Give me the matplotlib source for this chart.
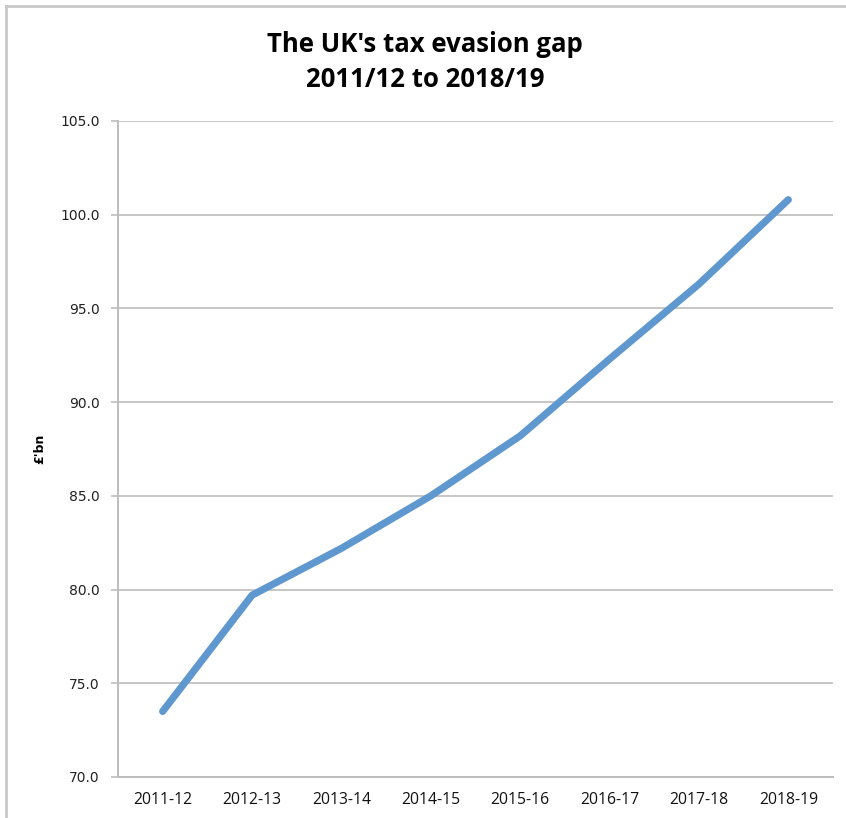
import matplotlib
matplotlib.use("Agg")
import matplotlib.pyplot as plt
from matplotlib.lines import Line2D

# Tax evasion gap, £bn, by financial year
years = ["2011-12", "2012-13", "2013-14", "2014-15",
         "2015-16", "2016-17", "2017-18", "2018-19"]
gap_bn = [73.5, 79.7, 82.2, 85.0, 88.2, 92.3, 96.3, 100.8]
y_ticks = [70, 75, 80, 85, 90, 95, 100, 105]

W, H = 846, 818
fig = plt.figure(figsize=(W / 100, H / 100), dpi=100)
fig.patch.set_facecolor("white")

# light outer frame of the chart area
frame_col = "#c9c9c9"
fig.add_artist(Line2D([6 / W, 6 / W], [0, 1 - 6 / H], transform=fig.transFigure,
                      color=frame_col, lw=2))
fig.add_artist(Line2D([6 / W, 1], [1 - 6 / H, 1 - 6 / H], transform=fig.transFigure,
                      color=frame_col, lw=2))

left, right = 118 / W, 833 / W
bottom, top = 1 - 777 / H, 1 - 121 / H
ax = fig.add_axes([left, bottom, right - left, top - bottom])

x = list(range(len(years)))
ax.plot(x, gap_bn, color="#5f98cf", lw=5.2, solid_capstyle="round",
        solid_joinstyle="round", zorder=3)

ax.set_xlim(-0.5, len(years) - 0.5)
ax.set_ylim(70, 105)
ax.set_yticks(y_ticks)
ax.set_yticklabels([f"{v:.1f}" for v in y_ticks], fontsize=10,
                   family="DejaVu Sans", color="#222222")
ax.set_xticks(x)
ax.set_xticklabels(years, fontsize=11.3, family="Open Sans", color="#111111")

grid_col = "#c6c6c6"
ax.yaxis.grid(True, color=grid_col, lw=1.4)
ax.set_axisbelow(True)
for side in ("top", "right"):
    ax.spines[side].set_visible(False)
for side in ("left", "bottom"):
    ax.spines[side].set_color("#bdbdbd")
    ax.spines[side].set_linewidth(1.4)
ax.tick_params(axis="y", length=5, width=1.2, color="#bdbdbd", pad=8)
ax.tick_params(axis="x", length=0, pad=11)

ax.set_ylabel("£'bn", fontsize=9, fontweight="bold", family="DejaVu Sans",
              labelpad=10)

fig.text(425 / W, 1 - 62 / H, "The UK's tax evasion gap\n2011/12 to 2018/19",
         ha="center", va="center", fontsize=18.5, fontweight="bold",
         family="Open Sans", linespacing=1.35, color="#000000")

fig.savefig("out.png", dpi=100, facecolor="white")
